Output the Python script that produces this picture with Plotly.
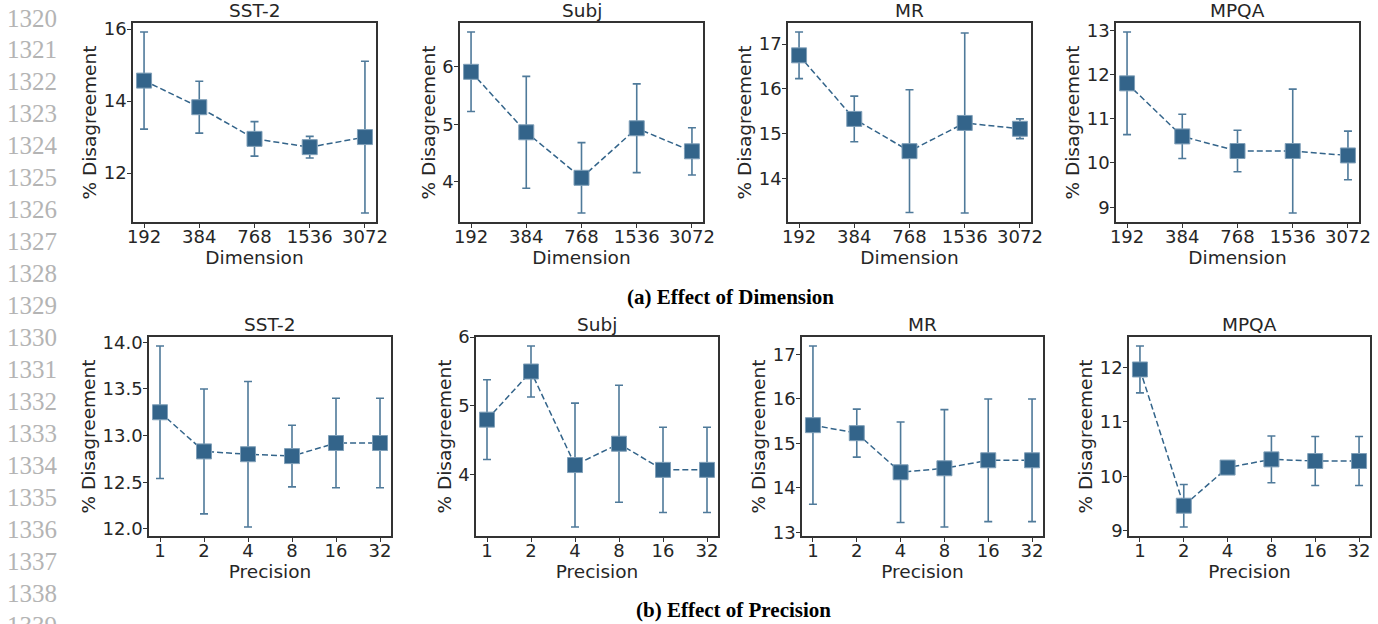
import plotly.graph_objects as go

W, H = 1378, 624

dim_labels = ["192", "384", "768", "1536", "3072"]
prec_labels = ["1", "2", "4", "8", "16", "32"]
datasets = ["SST-2", "Subj", "MR", "MPQA"]

# Effect of Dimension: mean and error (symmetric)
dim_sst2 = [14.57, 13.83, 12.95, 12.72, 13.00]
dim_sst2_err = [1.35, 0.72, 0.48, 0.30, 2.11]
dim_subj = [5.91, 4.86, 4.07, 4.93, 4.53]
dim_subj_err = [0.69, 0.97, 0.61, 0.77, 0.41]
dim_mr = [16.75, 15.33, 14.61, 15.24, 15.11]
dim_mr_err = [0.52, 0.51, 1.37, 2.01, 0.22]
dim_mpqa = [11.80, 10.60, 10.27, 10.27, 10.17]
dim_mpqa_err = [1.16, 0.50, 0.47, 1.40, 0.55]

# Effect of Precision
prec_sst2 = [13.25, 12.83, 12.80, 12.78, 12.92, 12.92]
prec_sst2_err = [0.71, 0.67, 0.78, 0.33, 0.48, 0.48]
prec_subj = [4.80, 5.50, 4.14, 4.45, 4.07, 4.07]
prec_subj_err = [0.58, 0.37, 0.90, 0.85, 0.62, 0.62]
prec_mr = [15.41, 15.23, 14.35, 14.44, 14.62, 14.62]
prec_mr_err = [1.78, 0.54, 1.13, 1.32, 1.38, 1.38]
prec_mpqa = [11.96, 9.46, 10.16, 10.31, 10.28, 10.28]
prec_mpqa_err = [0.43, 0.39, 0.05, 0.43, 0.45, 0.45]

dim_ticks = [[12, 14, 16], [4, 5, 6], [14, 15, 16, 17], [9, 10, 11, 12, 13]]
prec_ticks = [[12.0, 12.5, 13.0, 13.5, 14.0], [4, 5, 6], [13, 14, 15, 16, 17], [9, 10, 11, 12]]

line_numbers = list(range(1320, 1340))

# layout geometry (pixels)
top_x = [(133, 376), (460, 703), (788, 1031), (1116, 1359)]
bot_x = [(149, 391), (476, 718), (802, 1043), (1129, 1370)]
top_y = (23, 222)
bot_y = (337, 536)

MARK = "#33648a"
ERR = "#4f7a9a"
TXT = "#262626"
FONT = "DejaVu Sans"
FS_TICK = 18
FS_LAB = 18.5

fig = go.Figure()

rows = [
    (dim_labels, [dim_sst2, dim_subj, dim_mr, dim_mpqa],
     [dim_sst2_err, dim_subj_err, dim_mr_err, dim_mpqa_err], dim_ticks, top_x, top_y, "Dimension"),
    (prec_labels, [prec_sst2, prec_subj, prec_mr, prec_mpqa],
     [prec_sst2_err, prec_subj_err, prec_mr_err, prec_mpqa_err], prec_ticks, bot_x, bot_y, "Precision"),
]

annotations = []
k = 0
for labels, series, errs, ticks, xs, ys, xtitle in rows:
    for j in range(4):
        k += 1
        xa = "x" if k == 1 else f"x{k}"
        ya = "y" if k == 1 else f"y{k}"
        xkey = "xaxis" if k == 1 else f"xaxis{k}"
        ykey = "yaxis" if k == 1 else f"yaxis{k}"
        vals = series[j]
        e = errs[j]
        idx = list(range(len(labels)))
        fig.add_trace(go.Scatter(
            x=idx, y=vals, xaxis=xa, yaxis=ya, mode="lines+markers",
            line=dict(color=MARK, width=1.5, dash="6px,3px"),
            marker=dict(symbol="square", size=15, color=MARK,
                        line=dict(color="#7f9fb8", width=1)),
            error_y=dict(type="data", array=e, symmetric=True, color=ERR,
                         thickness=1.6, width=4),
            showlegend=False, hoverinfo="skip"))
        lo = min(v - d for v, d in zip(vals, e))
        hi = max(v + d for v, d in zip(vals, e))
        pad = 0.05 * (hi - lo)
        n = len(labels)
        x0, x1 = xs[j]
        y0, y1 = ys
        tv = ticks[j]
        if any(t != int(t) for t in tv):
            tt = [f"{t:.1f}" for t in tv]
        else:
            tt = [f"{t:g}" for t in tv]
        axcommon = dict(showline=True, linecolor="#333333", linewidth=1.5, mirror=True,
                        showgrid=False, zeroline=False, ticks="outside", ticklen=4,
                        tickwidth=1.2, tickcolor="#333333",
                        tickfont=dict(family=FONT, size=FS_TICK, color=TXT), automargin=False)
        fig.layout[xkey] = dict(domain=[x0 / W, x1 / W], anchor=ya,
                                range=[-0.05 * (n - 1), (n - 1) * 1.05],
                                tickvals=idx, ticktext=labels, ticklabelstandoff=-6,
                                title=dict(text=xtitle, font=dict(family=FONT, size=FS_LAB, color=TXT), standoff=0),
                                **axcommon)
        fig.layout[ykey] = dict(domain=[1 - y1 / H, 1 - y0 / H], anchor=xa,
                                range=[lo - pad, hi + pad], tickvals=tv, ticktext=tt,
                                ticklabelstandoff=-3,
                                title=dict(text="% Disagreement", font=dict(family=FONT, size=FS_LAB, color=TXT), standoff=2),
                                **axcommon)
        annotations.append(dict(text=datasets[j], x=(x0 + x1) / 2 / W, y=1 - y0 / H,
                                xref="paper", yref="paper", xanchor="center", yanchor="bottom",
                                showarrow=False, font=dict(family=FONT, size=FS_LAB, color=TXT)))

for i, num in enumerate(line_numbers):
    yc = 18 + 31.95 * i
    annotations.append(dict(text=str(num), x=5 / W, y=1 - yc / H, xref="paper", yref="paper",
                            xanchor="left", yanchor="middle", showarrow=False,
                            font=dict(family="Liberation Serif", size=25, color="#b4b4b4")))

annotations.append(dict(text="<b>(a) Effect of Dimension</b>", x=730 / W, y=1 - 297 / H,
                        xref="paper", yref="paper", xanchor="center", yanchor="middle",
                        showarrow=False, font=dict(family="Liberation Serif", size=21, color="black")))
annotations.append(dict(text="<b>(b) Effect of Precision</b>", x=733 / W, y=1 - 610 / H,
                        xref="paper", yref="paper", xanchor="center", yanchor="middle",
                        showarrow=False, font=dict(family="Liberation Serif", size=21, color="black")))

fig.update_layout(width=W, height=H, margin=dict(l=0, r=0, t=0, b=0),
                  paper_bgcolor="white", plot_bgcolor="white", annotations=annotations)

fig.write_html("out.html")
